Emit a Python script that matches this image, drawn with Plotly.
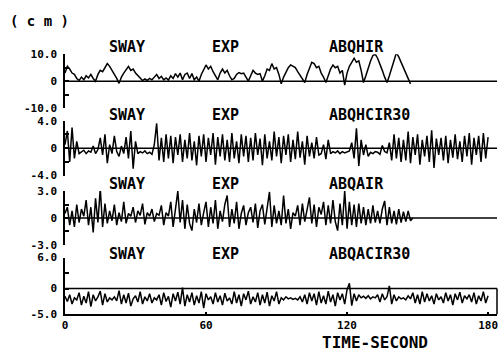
import plotly.graph_objects as go

# ---------------- data ----------------
run_labels = ["ABQHIR", "ABQHCIR30", "ABQAIR", "ABQACIR30"]
mode_label = "SWAY"
type_label = "EXP"

y_ranges = [(-10.0, 10.0), (-4.0, 4.0), (-3.0, 3.0), (-5.0, 6.0)]
y_ticktext = [("10.0", "-10.0"), ("4.0", "-4.0"), ("3.0", "-3.0"), ("6.0", "-5.0")]
x_tickvals = [0, 60, 120, 180]

# time in seconds (1 s steps)
t_hir = list(range(0, 148))
abqhir = [3.0, 5.5, 4.5, 3.0, 2.5, 1.0, 0.3, 1.5, 0.5, 2.0,
          1.2, 2.5, 1.0, 0.0, 2.5, 4.0, 3.5, 5.0, 6.5, 5.5,
          4.0, 3.0, 1.0, -0.8, 1.5, 3.0, 4.5, 5.5, 4.0, 4.5,
          3.0, 2.0, 1.0, 0.2, 0.8, 0.3, 1.0, 0.5, 1.5, 2.5,
          1.0, 1.8, 0.5, 1.2, 0.4, 2.0, 1.0, 2.8, 1.5, 3.0,
          0.5, 2.5, 3.0, 1.0, 2.8, 0.5, 1.5, 0.0, 2.5, 4.5,
          6.0, 4.5, 5.5, 3.5, 2.0, 0.5, 3.0, 4.5, 3.0, 4.0,
          2.0, 0.5, 1.0, 2.5, 3.2, 2.8, 3.0, 1.5, 0.0, 2.0,
          4.0, 3.0, 2.5, 2.8, 0.0, 2.0, 4.5, 4.0, 6.5, 4.5,
          5.0, 2.5, -1.0, 1.5, 3.5, 5.0, 6.0, 5.5, 5.0, 3.5,
          2.0, 0.5, -0.5, 2.5, 5.0, 7.0, 6.5, 5.0, 5.5, 3.0,
          1.5, -0.5, 2.0, 4.5, 6.0, 5.0, 5.5, 3.0, 4.0, -1.5,
          3.0, 5.5, 7.0, 8.5, 7.0, 7.5, 4.0, -0.5, 2.0, 5.0,
          7.5, 9.5, 10.0, 8.5, 6.5, 4.0, 1.5, -0.5, 2.0, 5.0,
          8.0, 10.5, 9.0, 7.0, 5.0, 2.5, 0.5, -1.0]

t_hcir30 = list(range(0, 181))
abqhcir30 = [0.5, 2.5, -2.0, 3.0, -1.5, 1.0, -0.8, -0.5, -0.3, -0.8,
             -0.4, -0.6, 0.3, -0.8, -0.2, 1.5, -1.0, 2.0, -2.2, 0.5,
             -0.8, 1.8, -0.5, -1.2, 0.3, -0.8, 1.6, -1.5, 2.5, -3.0,
             1.0, -0.8, -0.5, -0.7, -0.4, -0.8, -0.6, -0.9, 0.5, 3.6,
             -1.8, 1.5, -2.0, 2.0, -1.5, 1.8, -2.2, 1.6, -1.0, 2.0,
             -2.0, 1.2, -1.5, 2.2, -1.8, 1.0, -2.5, 1.8, -1.2, 2.0,
             -2.0, 1.5, -1.0, 2.2, -2.4, 1.6, -1.2, 2.0, -1.8, 1.2,
             -2.0, 2.2, -1.5, 1.0, -2.2, 2.0, -1.2, 1.8, -2.0, 1.5,
             -1.8, 2.2, -1.0, 1.4, -2.5, 2.0, -1.5, 1.0, -1.8, 2.4,
             -1.2, 1.6, -2.2, 1.8, -1.0, 2.0, -2.0, 1.2, -1.6, 2.4,
             -1.4, 1.0, -2.4, 1.8, -1.2, 0.8, -1.5, 1.6, -1.0, -0.8,
             0.5, -1.6, 1.2, -0.8, -0.5, -0.7, -0.4, -0.8, -0.5, -0.7,
             -0.6, -0.4, 0.8, -1.5, 2.9, -2.6, 1.2, -1.0, 0.5, -1.2,
             -0.6, -0.8, -0.5, -0.6, -0.9, 0.4, -0.5, -0.7, 0.8, -1.8,
             2.0, -1.5, 1.5, -2.0, 1.2, -1.8, 2.4, -2.2, 1.6, -1.0,
             2.0, -2.4, 1.2, -1.2, 1.8, -2.0, 2.6, -2.9, 1.4, -1.0,
             1.5, -1.8, 1.8, -2.2, 1.2, -1.4, 2.0, -1.6, 1.0, -2.0,
             1.8, -1.2, 2.2, -2.4, 1.5, -1.0, 1.8, -2.0, 2.2, -1.5,
             1.6]

t_air = list(range(0, 149))
abqair = [0.5, 1.2, -0.8, 0.8, -1.0, 1.5, -0.5, 1.0, 0.2, 2.0,
          -0.8, 1.2, -1.6, 2.2, -0.5, 3.3, -1.0, 1.6, -0.6, 0.8,
          -0.3, 1.5, -0.8, 0.6, -0.4, 1.8, -0.6, 0.5, 0.2, 1.2,
          -0.5, 0.8, 0.3, 1.6, -0.7, 0.6, 0.2, 1.0, -0.4, 0.5,
          0.3, 1.4, -0.8, 0.6, 0.2, 1.8, -1.0, 0.8, 3.0, -0.5,
          2.0, -1.2, 1.5, -0.6, -1.4, 1.0, -0.5, 1.6, -0.8, 0.6,
          1.8, -1.0, 1.2, -0.6, 2.0, -1.2, 0.8, -0.4, 1.5, 2.5,
          -1.0, 1.0, -0.6, 1.8, -1.2, 0.5, 1.4, -0.8, 0.6, 1.2,
          -0.5, 1.6, -1.1, 0.8, 1.5, -0.7, 1.2, 2.9, -1.0, 1.4,
          -0.6, 0.8, -0.8, 2.5, -0.6, 1.0, -1.2, 0.6, 0.2, 1.4,
          -0.8, 1.6, -0.4, 0.8, 2.3, -0.6, 1.5, -1.0, 1.2, 0.4,
          1.8, -0.8, 1.4, -0.6, 2.0, -0.4, -1.4, 1.6, -0.8, 3.0,
          -1.2, 1.8, -0.8, 1.5, -1.0, 1.6, -0.6, 1.2, -0.8, 1.0,
          -0.6, 1.4, -0.5, 0.8, -0.6, 1.0, 1.9, -0.8, 1.2, -0.6,
          0.8, -0.7, 1.0, -0.5, 0.7, -0.4, 0.8, -0.3, 0.0]

t_acir30 = list(range(0, 181))
abqacir30 = [-1.5, -2.5, -1.2, -3.0, -1.8, -2.2, -0.8, -3.2, -1.5, -2.8,
             -0.6, -3.5, -1.2, -2.4, -1.6, -0.5, -3.2, -1.0, -2.6, -1.8,
             -2.2, -1.6, -2.4, -0.4, -3.0, -1.2, -2.8, -0.9, -3.4, -2.0,
             -1.4, -2.6, -0.6, -3.0, -1.6, -2.4, -1.0, -2.8, -1.8, -2.2,
             -1.2, -3.2, -0.8, -2.5, -1.5, -3.6, -1.0, -2.4, -0.7, -3.0,
             0.2, -3.4, -1.2, -2.6, -0.8, -3.2, -1.4, -2.8, -0.6, -3.8,
             -1.0, -2.2, -1.6, -3.0, -0.8, -2.6, -1.4, -3.2, -0.9, -2.4,
             -1.8, -3.0, -0.6, -2.8, -1.2, -3.4, -1.0, -2.2, -0.5, -3.0,
             -1.6, -2.6, -0.8, -3.2, -1.2, -2.8, -0.7, -3.4, -1.4, -2.4,
             -0.6, -3.0, -1.8, -2.2, -1.6, -2.0, -1.8, -2.1, -1.9, -2.2,
             -1.6, -2.6, -1.2, -3.0, -0.8, -2.4, -1.0, -3.2, -0.6, -2.8,
             -1.4, -3.0, -0.5, -2.6, -1.2, -3.4, -0.8, -2.2, -1.0, -3.0,
             -0.2, 1.0, -3.3, -1.0, -2.4, -1.2, -1.8, -1.5, -1.9, -1.4,
             -2.0, -1.6, -1.8, -1.2, -2.6, -1.0, -2.2, -1.6, 0.5, -3.0,
             -1.2, -2.4, -1.6, -2.0, -1.8, -2.2, -1.4, -2.0, -0.8, -2.8,
             -1.2, -3.0, -0.6, -2.6, -1.0, -2.4, -1.4, -3.0, -1.0, -2.2,
             -1.6, -2.8, -0.8, -2.4, -1.2, -3.2, -1.0, -2.2, -0.7, -2.8,
             -1.4, -2.0, -1.2, -2.6, -0.8, -3.0, -1.4, -2.4, -0.6, -2.8,
             -1.4]

series_t = [t_hir, t_hcir30, t_air, t_acir30]
series_v = [abqhir, abqhcir30, abqair, abqacir30]

# ---------------- layout constants ----------------
W, H = 499, 358
ML, MR = 65, 2
X_MAX = 183.8
panel_px = [(50, 106), (119, 176), (192, 248), (261, 320)]
label_row_px = [43, 113, 185, 257]
MONO = "DejaVu Sans Mono"

def py2paper(py):
    return 1 - py / H

def px2paper(px):
    return (px - ML) / (W - ML - MR)

fig = go.Figure()

for i in range(4):
    ax = "" if i == 0 else str(i + 1)
    fig.add_trace(go.Scatter(
        x=series_t[i], y=series_v[i], mode="lines",
        line=dict(color="black", width=1.5),
        xaxis="x" + ax, yaxis="y" + ax, showlegend=False,
        hoverinfo="skip"))

    lo, hi = y_ranges[i]
    top_txt, bot_txt = y_ticktext[i]
    half_hi = hi / 2
    half_lo = lo / 2
    tickvals = [hi, half_hi, 0, half_lo, lo] if i != 3 else [hi, half_hi, 0, lo]
    ticktext = [top_txt, "", "0", "", bot_txt] if i != 3 else [top_txt, "", "0", bot_txt]

    d0 = py2paper(panel_px[i][1])
    d1 = py2paper(panel_px[i][0])
    fig.layout["yaxis" + ax] = dict(
        domain=[d0, d1], range=[lo, hi], anchor="x" + ax,
        showline=True, linecolor="black", linewidth=1.5,
        ticks="inside", ticklen=4, tickwidth=1.5, tickcolor="black",
        tickvals=tickvals, ticktext=ticktext,
        tickfont=dict(family=MONO, size=11, color="black", weight="bold"),
        ticklabelstandoff=4,
        showgrid=False, zeroline=False, fixedrange=True)

    xa = dict(domain=[0, 1], range=[0, X_MAX], anchor="y" + ax,
              showgrid=False, zeroline=False, fixedrange=True)
    if i < 3:
        xa.update(visible=False, matches="x4")
    else:
        xa.update(showline=True, linecolor="black", linewidth=1.5,
                  ticks="inside", ticklen=3, tickwidth=1.5, tickcolor="black",
                  tickvals=x_tickvals,
                  ticktext=[str(v) for v in x_tickvals],
                  tickfont=dict(family=MONO, size=11, color="black", weight="bold"))
    fig.layout["xaxis" + ax] = xa

    # zero line across the whole width
    fig.add_shape(type="line", xref="x" + ax + " domain", yref="y" + ax,
                  x0=0, x1=1, y0=0, y1=0,
                  line=dict(color="black", width=1.5))

    # panel labels
    ylab = py2paper(label_row_px[i])
    for txt, lpx in [(mode_label, 107), (type_label, 210), (run_labels[i], 327)]:
        fig.add_annotation(text=txt, xref="paper", yref="paper",
                           x=px2paper(lpx), y=ylab, xanchor="left", yanchor="middle",
                           showarrow=False,
                           font=dict(family=MONO, size=15, color="black", weight="bold"))

# right bracket of the bottom panel
fig.add_shape(type="line", xref="x4 domain", yref="y4",
              x0=1, x1=1, y0=y_ranges[3][0], y1=0,
              line=dict(color="black", width=1.5))

fig.add_annotation(text="( c m )", xref="paper", yref="paper",
                   x=px2paper(8), y=py2paper(16), xanchor="left", yanchor="middle",
                   showarrow=False,
                   font=dict(family=MONO, size=14, color="black", weight="bold"))
fig.add_annotation(text="TIME-SECOND", xref="paper", yref="paper",
                   x=px2paper(375), y=py2paper(349), xanchor="center", yanchor="middle",
                   showarrow=False,
                   font=dict(family=MONO, size=16, color="black", weight="bold"))

fig.update_layout(width=W, height=H,
                  margin=dict(l=ML, r=MR, t=0, b=0),
                  paper_bgcolor="white", plot_bgcolor="white",
                  showlegend=False)

fig.write_html("out.html")
